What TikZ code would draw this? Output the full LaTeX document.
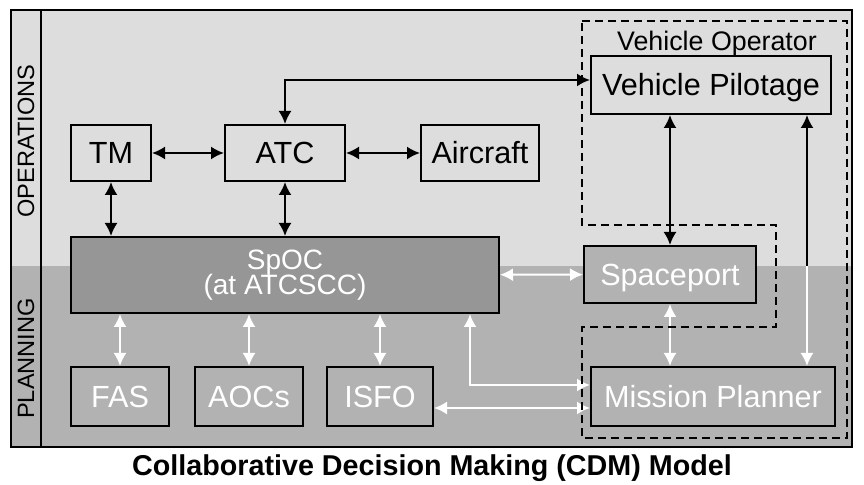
\documentclass[tikz,border=0pt]{standalone}
\usepackage{fontspec}
\setmainfont{Liberation Sans}
\usetikzlibrary{arrows.meta}

\definecolor{opsgray}{HTML}{DDDDDD}
\definecolor{plangray}{HTML}{B2B2B2}
\definecolor{spocgray}{HTML}{969696}

\tikzset{
  box/.style={draw, inner sep=0pt, minimum height=28pt, text height=11pt, text depth=0pt,
    font=\fontsize{15.3}{18}\selectfont},
  pbox/.style={box, fill=plangray, text=white, minimum height=29.5pt},
  side/.style={rotate=90, font=\fontsize{11.8}{14}\selectfont},
}

\begin{document}
\begin{tikzpicture}[x=0.5pt, y=-0.5pt, line width=1pt, >={Latex[length=6.5pt,width=6.5pt]}]
    \useasboundingbox (0,0) rectangle (864,485);

    % operations / planning bands
    \fill[opsgray] (11,10) rectangle (852,266);
    \fill[plangray] (11,266) rectangle (852,447);
    \draw (11,10) rectangle (852,447);
    \draw (41,10) -- (41,447);
    \node[side] (ops) at (26,141) {OPERATIONS};
    \node[side] (plan) at (26,358.5) {PLANNING};

    % operations row
    \node[box, minimum width=40pt] (tm) at (111,153) {TM};
    \node[box, minimum width=60pt] (atc) at (285,153) {ATC};
    \node[box, minimum width=59pt] (aircraft) at (480,153) {Aircraft};
    \node[box, minimum width=120pt, minimum height=29pt] (pilot) at (711,85) {Vehicle Pilotage};
    \node[anchor=base, font=\fontsize{13.4}{16}\selectfont] (vop) at (717,51) {Vehicle Operator};

    % planning row
    \node[draw, fill=spocgray, text=white, inner sep=0pt, minimum width=214pt, minimum height=38pt,
        align=center, font=\fontsize{14}{14}\selectfont] (spoc) at (285,275)
        {SpOC\\[-1.5pt](at ATCSCC)};
    \node[pbox, minimum width=86pt, minimum height=28.5pt] (spaceport) at (670,274.5) {Spaceport};
    \node[pbox, minimum width=49pt] (fas) at (120,396.5) {FAS};
    \node[pbox, minimum width=54pt] (aocs) at (249,396.5) {AOCs};
    \node[pbox, minimum width=53pt] (isfo) at (380,396.5) {ISFO};
    \node[pbox, minimum width=122pt] (planner) at (713,396.5) {Mission Planner};

    % black links
    \draw[<->] (tm) -- (atc);
    \draw[<->] (atc) -- (aircraft);
    \draw[<->] (tm.south) -- (tm.south |- spoc.north);
    \draw[<->] (atc.south) -- (spoc.north);
    \coordinate (top) at (0,80);
    \draw[<->] (atc.north) |- (pilot.west |- top);
    \draw[<->] (pilot.south -| spaceport.north) -- (spaceport.north);
    \coordinate (cut) at (807,266);
    \draw[<-] (pilot.south -| cut) -- (cut);

    % white links
    \draw[white, ->] (cut) -- (planner.north -| cut);
    \draw[white, <->] (spoc) -- (spaceport);
    \draw[white, <->] (spaceport.south) -- (spaceport.south |- planner.north);
    \foreach \n in {fas,aocs,isfo}
        \draw[white, <->] (\n.north) -- (\n.north |- spoc.south);
    \coordinate (bend) at (470,385);
    \coordinate (low) at (0,408);
    \draw[white, <->] (spoc.south -| bend) |- (planner.west |- bend);
    \draw[white, <->] (isfo.east |- low) -- (planner.west |- low);

    % vehicle operator outline
    \draw[dash pattern=on 4pt off 2.5pt]
        (582,21) -- (847,21) -- (847,438) -- (582,438) -- (582,327)
        -- (776,327) -- (776,225) -- (582,225) -- cycle;

    \node[anchor=base, font=\bfseries\fontsize{14.35}{17}\selectfont] (title) at (432,476)
        {Collaborative Decision Making (CDM) Model};
\end{tikzpicture}
\end{document}
